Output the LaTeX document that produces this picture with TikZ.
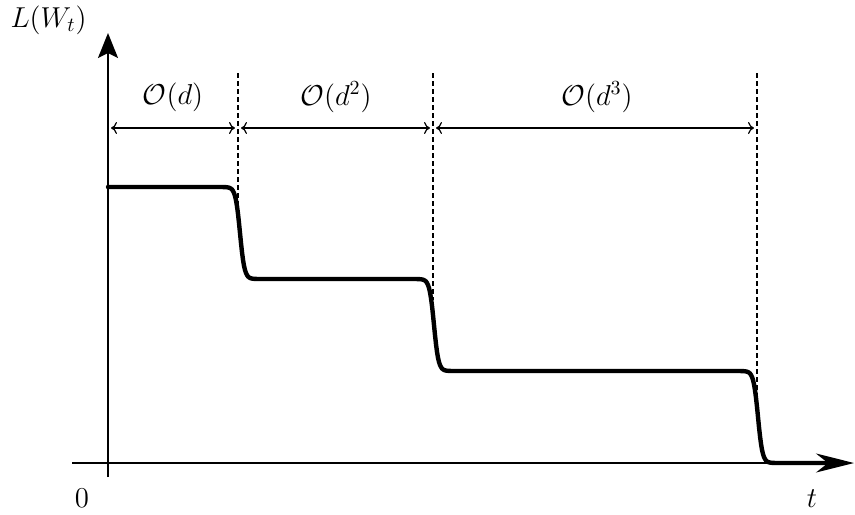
\documentclass[tikz,border=0pt]{standalone}
\usetikzlibrary{arrows.meta}
\begin{document}
\begin{tikzpicture}[x=0.5pt,y=-0.5pt,
  axisline/.style={line width=0.9pt},
  yarrow/.style={axisline,-{Stealth[length=12.5pt,width=10pt,inset=2.5pt]}},
  xarrow/.style={axisline,-{Stealth[length=19pt,width=9.5pt,inset=6pt]}},
  curvestyle/.style={line width=2.2pt,line join=round,line cap=round},
  guide/.style={line width=0.6pt,dash pattern=on 2.5pt off 1.5pt},
  span/.style={line width=0.6pt,{To[length=3pt,width=6pt]}-{To[length=3pt,width=6pt]},shorten <=1.5pt,shorten >=1.5pt},
  lbl/.style={font=\fontsize{14.5}{17}\selectfont,inner sep=0pt}]
\useasboundingbox (0,0) rectangle (855,514);
% coordinates
\coordinate (ybot) at (108,477);
\coordinate (ytop) at (108,33);
\coordinate (xl) at (72,463);
\coordinate (xr) at (854,463);
\coordinate (d1top) at (238,73);
\coordinate (d1bot) at (238,210);
\coordinate (d2top) at (433,73);
\coordinate (d2bot) at (433,300);
\coordinate (d3top) at (757,73);
\coordinate (d3bot) at (757,397);
\coordinate (s0) at (108,128);
\coordinate (s1) at (238,128);
\coordinate (s2) at (433,128);
\coordinate (s3) at (757,128);
% dashed guides
\draw[guide] (d1top) -- (d1bot);
\draw[guide] (d2top) -- (d2bot);
\draw[guide] (d3top) -- (d3bot);
% spans
\draw[span] (s0) -- (s1);
\draw[span] (s1) -- (s2);
\draw[span] (s2) -- (s3);
% axes
\draw[yarrow] (ybot) -- (ytop);
\draw[xarrow] (xl) -- (xr);
% curve
\draw[curvestyle] plot[domain=108:835,samples=728]
  (\x,{187+46*(3+tanh(max(-8,min(8,(\x-240)/4.5)))+tanh(max(-8,min(8,(\x-434)/4.5)))+tanh(max(-8,min(8,(\x-758)/4.5))))});
% labels
\node[lbl] (ylabel) at (48.5,20) {$L(W_t)$};
\node[lbl] (l1) at (173,97) {$\mathcal{O}(d)$};
\node[lbl] (l2) at (336,97) {$\mathcal{O}(d^2)$};
\node[lbl] (l3) at (597,97) {$\mathcal{O}(d^3)$};
\node[lbl] (zero) at (82,498) {$0$};
\node[lbl] (tlabel) at (812,499) {$t$};
\end{tikzpicture}
\end{document}
